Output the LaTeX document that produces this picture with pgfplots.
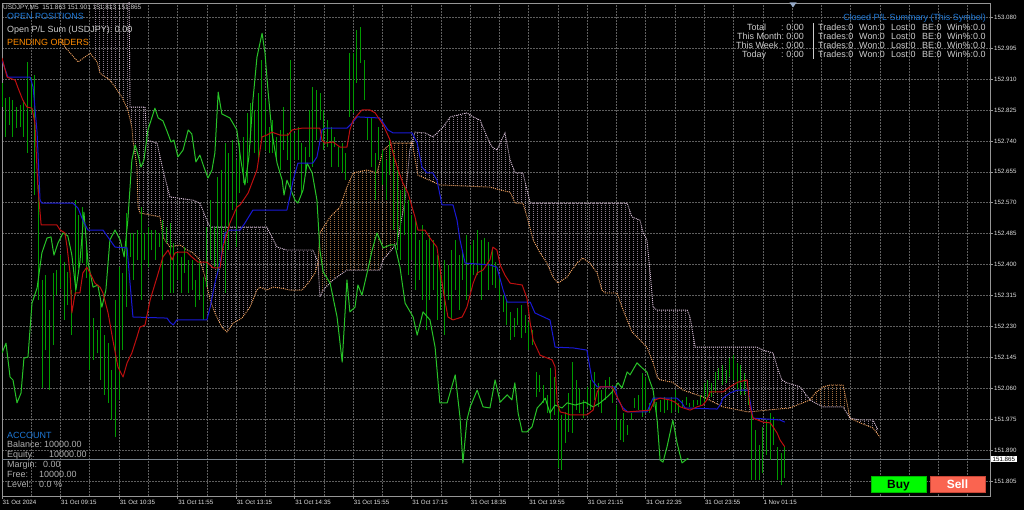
\documentclass[border=0pt]{standalone}
\usepackage{fontspec}
\setmainfont{Liberation Sans}
\usepackage{pgfplots}
\pgfplotsset{compat=1.18}
\usepackage{pgfplotstable}
\usetikzlibrary{patterns.meta}

\definecolor{gridc}{RGB}{95,95,95}
\definecolor{framec}{RGB}{150,150,150}
\definecolor{ticktxt}{RGB}{225,225,225}
\definecolor{barc}{RGB}{0,155,0}
\definecolor{chikouc}{RGB}{40,195,40}
\definecolor{tenkanc}{RGB}{190,15,15}
\definecolor{kijunc}{RGB}{25,25,215}
\definecolor{sandy}{RGB}{244,164,96}
\definecolor{thistle}{RGB}{216,191,216}
\definecolor{mtblue}{RGB}{30,120,215}
\definecolor{mtorange}{RGB}{255,140,0}
\definecolor{txtc}{RGB}{205,205,205}
\definecolor{acctc}{RGB}{175,175,175}
\definecolor{pricelc}{RGB}{120,130,140}
\definecolor{buyc}{RGB}{0,250,0}
\definecolor{buyb}{RGB}{0,185,0}
\definecolor{sellc}{RGB}{250,100,80}
\definecolor{sellb}{RGB}{200,70,55}
\definecolor{markc}{RGB}{150,170,200}

\pgfdeclarepattern{
  name=vdots,
  type=uncolored,
  bottom left={\pgfpoint{0bp}{0bp}},
  top right={\pgfpoint{3.658bp}{2bp}},
  tile size={\pgfpoint{3.658bp}{2bp}},
  code={\pgfpathrectangle{\pgfpointorigin}{\pgfpoint{1bp}{1bp}}\pgfusepath{fill}}
}

% M5 bars: index, low, high
\pgfplotstableread{
i lo hi
0 152.833 152.899
1 152.751 152.858
2 152.784 152.860
3 152.751 152.852
4 152.775 152.833
5 152.778 152.838
6 152.751 152.852
7 152.707 152.957
8 152.817 152.915
9 152.591 152.921
10 152.303 152.619
11 152.061 152.358
12 152.165 152.371
13 152.055 152.275
14 152.179 152.377
15 152.316 152.385
16 152.336 152.426
17 152.248 152.407
18 152.289 152.380
19 152.206 152.330
20 152.316 152.577
21 152.391 152.536
22 152.404 152.558
23 152.363 152.454
24 152.110 152.380
25 152.138 152.253
26 152.157 152.220
27 152.083 152.303
28 152.042 152.206
29 152.020 152.184
30 151.973 152.110
31 151.926 152.303
32 152.028 152.393
33 152.165 152.377
34 152.283 152.542
35 152.421 152.487
36 152.358 152.487
37 152.413 152.495
38 152.303 152.558
39 152.413 152.487
40 152.393 152.503
41 152.440 152.495
42 152.413 152.495
43 152.448 152.487
44 152.303 152.522
45 152.459 152.503
46 152.322 152.514
47 152.322 152.459
48 152.358 152.432
49 152.322 152.421
50 152.377 152.448
51 152.322 152.413
52 152.330 152.413
53 152.283 152.358
54 152.303 152.413
55 152.248 152.366
56 152.338 152.503
57 152.413 152.577
58 152.393 152.503
59 152.377 152.641
60 152.432 152.660
61 152.322 152.734
62 152.440 152.707
63 152.550 152.742
64 152.448 152.687
65 152.597 152.734
66 152.624 152.751
67 152.624 152.817
68 152.734 152.844
69 152.707 152.825
70 152.687 152.871
71 152.734 152.962
72 152.715 152.852
73 152.707 152.778
74 152.707 152.797
75 152.687 152.751
76 152.660 152.770
77 152.715 152.833
78 152.687 152.762
79 152.613 152.962
80 152.687 152.762
81 152.687 152.778
82 152.597 152.734
83 152.652 152.723
84 152.696 152.825
85 152.668 152.888
86 152.742 152.880
87 152.797 152.871
88 152.715 152.825
89 152.723 152.797
90 152.668 152.778
91 152.723 152.751
92 152.668 152.723
93 152.652 152.734
94 152.632 152.707
95 152.806 152.981
96 152.817 152.981
97 152.899 153.045
98 152.954 153.053
99 152.852 152.962
100 152.742 152.806
101 152.668 152.806
102 152.577 152.707
103 152.687 152.778
104 152.619 152.715
105 152.577 152.687
106 152.646 152.742
107 152.495 152.715
108 152.440 152.660
109 152.413 152.605
110 152.481 152.619
111 152.371 152.577
112 152.413 152.536
113 152.330 152.522
114 152.358 152.468
115 152.303 152.509
116 152.220 152.468
117 152.303 152.481
118 152.330 152.468
119 152.248 152.426
120 152.275 152.385
121 152.206 152.413
122 152.303 152.399
123 152.248 152.440
124 152.330 152.468
125 152.275 152.426
126 152.358 152.440
127 152.303 152.481
128 152.330 152.454
129 152.371 152.468
130 152.371 152.495
131 152.303 152.468
132 152.399 152.473
133 152.330 152.462
134 152.344 152.440
135 152.336 152.407
136 152.303 152.371
137 152.270 152.316
138 152.234 152.303
139 152.193 152.270
140 152.201 152.253
141 152.234 152.281
142 152.198 152.289
143 152.212 152.261
144 152.165 152.242
145 152.179 152.220
146 152.036 152.105
147 152.050 152.097
148 152.020 152.069
149 151.992 152.042
150 151.973 152.116
151 151.987 152.091
152 151.841 152.014
153 151.835 151.987
154 151.910 151.995
155 151.940 152.047
156 151.937 152.132
157 152.000 152.083
158 151.992 152.061
159 151.978 152.028
160 152.009 152.064
161 152.000 152.083
162 152.028 152.105
163 152.009 152.075
164 151.992 152.055
165 152.028 152.083
166 152.064 152.091
167 152.020 152.069
168 151.945 152.014
169 151.918 151.973
170 151.912 151.992
171 151.932 151.959
172 151.973 151.992
173 152.006 152.033
174 152.000 152.042
175 151.981 152.102
176 151.992 152.091
177 151.992 152.020
178 152.009 152.036
179 151.992 152.022
180 151.995 152.028
181 151.992 152.036
182 152.000 152.028
183 151.992 152.036
184 152.000 152.055
185 151.992 152.020
186 152.006 152.028
187 152.014 152.036
188 152.009 152.020
189 152.009 152.028
190 152.014 152.028
191 152.014 152.042
192 152.020 152.075
193 152.033 152.083
194 152.036 152.075
195 152.047 152.105
196 152.083 152.116
197 152.069 152.124
198 152.075 152.110
199 152.091 152.143
200 152.083 152.151
201 152.055 152.130
202 152.042 152.124
203 152.042 152.102
204 152.014 152.047
205 151.808 151.992
206 151.808 151.945
207 151.808 151.904
208 151.827 151.954
209 151.877 151.973
210 151.863 151.992
211 151.904 151.981
212 151.808 151.899
213 151.794 151.882
214 151.813 151.901
}\bars

% Senkou Span A (shifted forward 26 bars)
\pgfplotstableread{
i p
16.4 153.017
17.2 152.998
20.8 152.957
24.1 152.981
26.0 152.957
26.8 152.926
29.5 152.907
30.9 152.888
32.8 152.860
34.4 152.825
35.5 152.778
35.8 152.742
36.9 152.668
37.2 152.558
37.7 152.542
43.2 152.531
44.0 152.476
45.1 152.459
45.9 152.448
48.7 152.454
50.6 152.440
52.2 152.432
54.1 152.413
55.5 152.366
56.9 152.303
58.2 152.267
60.1 152.228
61.5 152.215
63.2 152.239
65.6 152.253
67.8 152.283
69.7 152.330
70.5 152.338
72.4 152.330
74.1 152.338
76.0 152.336
78.7 152.330
82.0 152.330
83.7 152.349
85.6 152.377
86.4 152.407
86.9 152.487
89.7 152.531
92.4 152.558
94.3 152.613
96.0 152.652
99.8 152.660
102.5 152.652
104.2 152.715
106.6 152.734
111.5 152.734
112.1 152.737
113.7 152.646
119.7 152.619
133.4 152.613
136.2 152.605
138.9 152.599
140.3 152.569
142.4 152.569
143.8 152.522
145.2 152.468
147.1 152.432
149.0 152.404
150.6 152.366
152.0 152.349
154.5 152.366
155.8 152.385
157.2 152.404
158.8 152.418
160.7 152.404
162.7 152.377
164.0 152.330
164.9 152.322
168.1 152.322
169.5 152.283
170.9 152.248
172.2 152.215
173.6 152.201
176.3 152.173
178.0 152.130
179.1 152.091
179.9 152.083
183.2 152.077
186.2 152.055
191.7 152.036
197.1 152.009
204.0 151.995
215.4 152.006
220.9 152.028
222.3 152.047
224.5 152.064
226.4 152.069
229.9 152.069
231.0 152.020
231.8 151.978
234.6 151.965
238.1 151.951
240.0 151.926
}\spanA

% Senkou Span B (shifted forward 26 bars)
\pgfplotstableread{
i p
24.9 153.182
34.7 153.182
35.0 152.833
39.1 152.833
39.6 152.742
42.4 152.734
44.0 152.660
45.9 152.586
52.2 152.577
54.1 152.569
56.0 152.522
56.9 152.503
72.4 152.503
73.8 152.476
75.2 152.448
77.9 152.440
85.0 152.440
86.4 152.407
86.9 152.311
87.8 152.330
90.5 152.358
94.3 152.385
103.3 152.385
104.2 152.413
108.0 152.459
110.2 152.577
111.5 152.715
112.1 152.737
112.9 152.764
115.6 152.762
117.8 152.751
120.6 152.778
122.5 152.806
127.1 152.817
128.8 152.806
130.7 152.797
132.6 152.751
134.0 152.723
135.3 152.715
137.5 152.762
138.9 152.687
140.3 152.652
142.4 152.652
144.4 152.569
170.9 152.569
172.2 152.531
174.4 152.522
175.3 152.487
176.3 152.468
177.2 152.377
178.0 152.283
179.1 152.275
187.3 152.275
188.1 152.256
189.5 152.173
206.4 152.173
208.1 152.165
210.8 152.157
211.9 152.119
213.2 152.083
214.6 152.075
218.2 152.064
220.9 152.028
222.3 152.020
224.5 152.009
229.9 152.009
231.8 151.978
234.6 151.973
238.1 151.973
239.5 151.945
}\spanB

\begin{document}
\begin{tikzpicture}
\fill[black] (0bp,0bp) rectangle (1024bp,510bp);
\useasboundingbox (0bp,0bp) rectangle (1024bp,510bp);
\begin{axis}[
  at={(2bp,14bp)}, anchor=south west,
  scale only axis, width=988bp, height=493bp,
  xmin=0, xmax=270.1, ymin=151.764, ymax=153.119,
  axis line style={draw=framec, line width=0.8bp},
  xtick={0,16,...,208},
  xticklabels={31 Oct 2024,31 Oct 09:15,31 Oct 10:35,31 Oct 11:55,31 Oct 13:15,31 Oct 14:35,31 Oct 15:55,31 Oct 17:15,31 Oct 18:35,31 Oct 19:55,31 Oct 21:15,31 Oct 22:35,31 Oct 23:55,1 Nov 01:15},
  minor xtick={8,16,...,264},
  ytick={151.805,151.890,151.975,152.060,152.145,152.230,152.315,152.400,152.485,152.570,152.655,152.740,152.825,152.910,152.995,153.080},
  xmajorgrids=false, xminorgrids=true, ymajorgrids=true,
  major grid style={gridc, dash pattern=on 1.5bp off 1.5bp, line width=0.6bp},
  minor grid style={gridc, dash pattern=on 1.5bp off 1.5bp, line width=0.6bp},
  ytick pos=right, yticklabel pos=right, xtick pos=bottom,
  tick align=outside, major tick length=3bp, minor tick length=0pt,
  tick style={draw=framec, line width=0.6bp},
  scaled y ticks=false,
  /pgf/number format/assume math mode=true,
  yticklabel style={/pgf/number format/.cd, fixed, fixed zerofill, precision=3, /tikz/.cd,
     anchor=west, text=ticktxt, font=\fontsize{6.2}{7}\selectfont, inner sep=0pt, xshift=1bp},
  xticklabel style={anchor=north west, text=ticktxt, font=\fontsize{6.2}{7}\selectfont, inner sep=0pt, yshift=-1bp, xshift=0.5bp},
]
% cloud hatching, one polygon per twist of the Kumo (Span A forward, Span B back)
\addplot[pattern=vdots, pattern color=thistle, draw=none] table {
x y
24.9 152.971
26.0 152.957
26.8 152.926
29.5 152.907
30.9 152.888
32.8 152.860
34.4 152.825
35.5 152.778
35.8 152.742
36.9 152.668
37.2 152.558
37.7 152.542
43.2 152.531
44.0 152.476
45.1 152.459
45.9 152.448
48.7 152.454
50.6 152.440
52.2 152.432
54.1 152.413
55.5 152.366
56.9 152.303
58.2 152.267
60.1 152.228
61.5 152.215
63.2 152.239
65.6 152.253
67.8 152.283
69.7 152.330
70.5 152.338
72.4 152.330
74.1 152.338
76.0 152.336
78.7 152.330
82.0 152.330
83.7 152.349
85.6 152.377
86.4 152.407
85.0 152.440
77.9 152.440
75.2 152.448
73.8 152.476
72.4 152.503
56.9 152.503
56.0 152.522
54.1 152.569
52.2 152.577
45.9 152.586
44.0 152.660
42.4 152.734
39.6 152.742
39.1 152.833
35.0 152.833
34.7 153.182
24.9 153.182
} -- cycle;
\addplot[pattern=vdots, pattern color=sandy, draw=none] table {
x y
86.4 152.407
86.9 152.487
89.7 152.531
92.4 152.558
94.3 152.613
96.0 152.652
99.8 152.660
102.5 152.652
104.2 152.715
106.6 152.734
111.5 152.734
112.1 152.737
111.5 152.715
110.2 152.577
108.0 152.459
104.2 152.413
103.3 152.385
94.3 152.385
90.5 152.358
87.8 152.330
86.9 152.311
} -- cycle;
\addplot[pattern=vdots, pattern color=thistle, draw=none] table {
x y
112.1 152.737
113.7 152.646
119.7 152.619
133.4 152.613
136.2 152.605
138.9 152.599
140.3 152.569
142.4 152.569
143.8 152.522
145.2 152.468
147.1 152.432
149.0 152.404
150.6 152.366
152.0 152.349
154.5 152.366
155.8 152.385
157.2 152.404
158.8 152.418
160.7 152.404
162.7 152.377
164.0 152.330
164.9 152.322
168.1 152.322
169.5 152.283
170.9 152.248
172.2 152.215
173.6 152.201
176.3 152.173
178.0 152.130
179.1 152.091
179.9 152.083
183.2 152.077
186.2 152.055
191.7 152.036
197.1 152.009
204.0 151.995
215.4 152.006
220.9 152.028
218.2 152.064
214.6 152.075
213.2 152.083
211.9 152.119
210.8 152.157
208.1 152.165
206.4 152.173
189.5 152.173
188.1 152.256
187.3 152.275
179.1 152.275
178.0 152.283
177.2 152.377
176.3 152.468
175.3 152.487
174.4 152.522
172.2 152.531
170.9 152.569
144.4 152.569
142.4 152.652
140.3 152.652
138.9 152.687
137.5 152.762
135.3 152.715
134.0 152.723
132.6 152.751
130.7 152.797
128.8 152.806
127.1 152.817
122.5 152.806
120.6 152.778
117.8 152.751
115.6 152.762
112.9 152.764
} -- cycle;
\addplot[pattern=vdots, pattern color=sandy, draw=none] table {
x y
220.9 152.028
222.3 152.047
224.5 152.064
226.4 152.069
229.9 152.069
231.0 152.020
231.8 151.978
229.9 152.009
224.5 152.009
222.3 152.020
} -- cycle;
\addplot[pattern=vdots, pattern color=thistle, draw=none] table {
x y
231.8 151.978
234.6 151.965
238.1 151.951
240.0 151.926
239.5 151.945
238.1 151.973
234.6 151.973
} -- cycle;
% cloud lines
\addplot[sandy, line width=0.9bp, dash pattern=on 1bp off 1bp] table[x=i, y=p] {\spanA};
\addplot[thistle, line width=0.9bp, dash pattern=on 1bp off 1bp] table[x=i, y=p] {\spanB};
% current price line
\addplot[pricelc, line width=0.8bp] coordinates {(0,151.865) (270.1,151.865)};
% bars (high-low)
\addplot[barc, line width=1bp, quiver={u=0, v=\thisrow{hi}-\thisrow{lo}}] table[x=i, y=lo] {\bars};
% Chikou span
\addplot[chikouc, line width=1bp, line join=round] table {
x y
0 152.157
1.1 152.184
2.2 152.091
3.0 152.083
4.1 152.020
5.2 152.047
6.0 152.143
7.1 152.146
8.2 152.294
9.6 152.336
10.9 152.432
12.3 152.473
13.4 152.476
14.2 152.426
15.3 152.459
16.7 152.487
18.0 152.479
19.1 152.426
20.2 152.330
21.3 152.407
22.4 152.544
23.5 152.407
24.9 152.338
26.2 152.344
27.3 152.283
28.4 152.330
29.5 152.468
30.9 152.495
32.3 152.468
33.4 152.421
34.4 152.522
35.5 152.687
36.4 152.729
37.2 152.701
38.0 152.668
38.8 152.687
39.9 152.770
41.8 152.830
42.7 152.803
44.0 152.795
45.1 152.767
46.2 152.737
47.0 152.742
48.1 152.696
49.5 152.715
50.9 152.770
51.9 152.759
53.0 152.682
54.1 152.701
55.2 152.668
56.3 152.638
57.4 152.660
58.2 152.707
59.1 152.874
60.1 152.814
62.3 152.803
64.2 152.770
65.3 152.687
66.4 152.619
67.5 152.696
68.6 152.852
69.7 152.970
71.1 153.036
71.9 152.981
72.7 152.880
73.8 152.762
75.2 152.679
76.6 152.632
77.1 152.591
77.9 152.632
78.7 152.613
80.1 152.577
80.9 152.569
82.3 152.605
83.4 152.679
84.8 152.652
86.1 152.577
86.9 152.440
87.8 152.380
89.7 152.349
91.6 152.256
93.0 152.132
94.3 152.358
95.1 152.270
96.5 152.283
97.3 152.344
98.4 152.316
99.8 152.377
101.2 152.440
102.5 152.487
104.2 152.446
106.1 152.454
107.4 152.454
108.8 152.393
110.2 152.294
112.4 152.256
113.5 152.206
115.1 152.270
117.0 152.248
118.4 152.173
119.7 152.020
121.7 152.020
123.9 152.097
125.2 151.981
126.0 151.855
127.1 151.973
128.0 152.009
129.9 152.055
131.5 152.009
133.4 152.006
134.8 152.083
136.2 152.022
138.1 152.042
139.4 152.028
140.2 152.075
141.1 151.992
142.2 151.940
143.5 151.940
144.9 151.954
146.3 152.006
147.6 152.020
148.5 152.033
149.8 151.992
151.2 152.014
153.1 152.006
154.5 152.020
156.7 152.014
159.4 152.022
161.6 152.009
163.5 152.020
165.4 152.036
166.8 152.050
168.4 152.075
169.5 152.061
170.9 152.105
171.7 152.097
173.6 152.130
175.0 152.116
176.3 152.105
177.2 152.077
178.0 152.055
179.1 151.973
179.9 151.863
180.7 151.857
181.8 151.899
183.4 151.973
184.5 151.912
185.9 151.855
187.6 151.868
};
% Kijun-sen
\addplot[kijunc, line width=1bp, line join=round] table {
x y
0 152.962
1.6 152.915
7.7 152.915
8.5 152.888
9.6 152.762
10.4 152.577
10.9 152.569
19.4 152.569
20.8 152.555
22.1 152.522
23.5 152.495
27.6 152.495
29.5 152.468
30.9 152.448
34.2 152.446
35.0 152.349
35.8 152.256
45.1 152.253
45.9 152.242
46.8 152.234
47.8 152.248
56.0 152.248
56.9 152.283
58.2 152.349
59.6 152.404
61.0 152.487
62.3 152.495
65.1 152.495
66.4 152.514
68.6 152.550
77.9 152.550
78.7 152.586
79.6 152.632
80.9 152.679
85.0 152.679
86.1 152.696
87.5 152.770
88.3 152.775
94.3 152.775
95.7 152.789
97.1 152.806
103.3 152.803
105.5 152.770
106.9 152.762
112.1 152.762
113.5 152.734
114.8 152.668
116.2 152.652
117.8 152.652
118.9 152.632
120.3 152.564
123.3 152.564
124.4 152.522
125.2 152.468
126.6 152.404
133.4 152.399
135.3 152.393
137.0 152.330
138.1 152.297
144.4 152.297
145.7 152.267
149.8 152.248
151.2 152.173
156.1 152.171
159.9 152.165
161.3 152.083
162.7 152.064
167.6 152.064
168.4 152.028
169.8 152.006
171.1 151.995
176.3 151.995
178.0 152.033
184.5 152.033
185.9 152.020
186.7 152.006
195.5 152.003
196.3 152.014
197.1 152.033
199.0 152.047
201.0 152.055
204.0 152.055
205.3 151.978
212.7 151.973
214.0 151.967
};
% Tenkan-sen
\addplot[tenkanc, line width=1bp, line join=round] table {
x y
0 152.968
1.4 152.915
3.6 152.907
4.4 152.885
5.7 152.852
6.8 152.833
8.2 152.830
9.0 152.789
9.8 152.613
10.7 152.509
15.0 152.509
15.9 152.495
17.2 152.487
17.8 152.448
18.6 152.377
19.1 152.267
20.0 152.322
21.3 152.322
22.1 152.377
23.2 152.393
24.6 152.366
25.4 152.349
26.8 152.338
27.6 152.322
29.0 152.267
30.3 152.193
31.7 152.119
33.1 152.091
34.2 152.130
35.5 152.157
36.9 152.201
37.7 152.228
39.1 152.234
40.5 152.303
42.4 152.366
44.0 152.421
45.4 152.440
46.5 152.413
47.3 152.432
48.1 152.434
50.6 152.434
51.9 152.421
53.6 152.407
56.0 152.407
57.7 152.391
59.6 152.391
60.4 152.448
62.3 152.514
64.2 152.558
65.1 152.564
67.3 152.597
69.7 152.660
71.1 152.751
72.4 152.756
73.8 152.764
76.0 152.756
78.2 152.756
79.3 152.770
82.0 152.775
86.9 152.775
87.5 152.742
88.3 152.734
90.5 152.737
92.4 152.723
94.3 152.723
95.1 152.770
96.0 152.797
98.4 152.825
100.6 152.825
102.0 152.817
104.2 152.784
106.1 152.742
106.9 152.707
108.3 152.660
109.6 152.624
111.0 152.597
112.1 152.558
112.9 152.531
113.7 152.495
115.6 152.495
117.0 152.473
118.9 152.448
120.6 152.330
121.9 152.256
123.3 152.248
125.8 152.256
127.1 152.283
128.8 152.349
129.9 152.377
131.5 152.385
133.4 152.413
134.2 152.448
135.3 152.440
136.2 152.399
137.5 152.371
138.9 152.349
142.2 152.344
143.5 152.308
144.4 152.239
145.2 152.193
147.1 152.151
150.4 152.138
151.2 152.119
151.8 152.020
152.6 151.995
153.9 151.992
155.3 151.987
159.9 151.987
161.6 152.000
162.7 152.050
163.5 152.064
166.8 152.064
167.6 152.047
169.0 152.020
169.8 152.000
170.9 151.995
177.2 152.000
178.5 152.028
179.9 152.033
182.6 152.028
184.0 152.022
185.4 152.009
188.1 152.000
190.0 152.009
191.6 152.014
192.7 152.028
193.6 152.050
197.1 152.050
199.0 152.064
201.2 152.077
203.7 152.083
204.5 152.009
205.3 151.978
208.1 151.967
210.0 151.965
210.8 151.954
211.9 151.937
212.7 151.918
214.0 151.899
};
\end{axis}

\begin{scope}[x=1bp,y=1bp]
% top-left
\node[anchor=base west, inner sep=0pt, text=txtc, font=\fontsize{6.5}{7}\selectfont] at (3,500.7) {USDJPY,M5\ \ 151.863 151.901 151.813 151.865};
\node[anchor=base west, inner sep=0pt, text=mtblue, font=\fontsize{9}{10}\selectfont] at (7,490.8) {OPEN POSITIONS};
\node[anchor=base west, inner sep=0pt, text=txtc, font=\fontsize{9}{10}\selectfont] at (7,477.8) {Open P/L Sum (USDJPY): 0.00};
\node[anchor=base west, inner sep=0pt, text=mtorange, font=\fontsize{9}{10}\selectfont] at (7,464.8) {PENDING ORDERS};
% top-right summary
\node[anchor=base east, inner sep=0pt, text=mtblue, font=\fontsize{9}{10}\selectfont] at (986,489.8) {Closed P/L Summary (This Symbol)};
\begin{scope}[every node/.style={inner sep=0pt, text=txtc, font=\fontsize{9}{10}\selectfont}]
\node[anchor=base west] at (747,479.8) {Total};
\node[anchor=base west] at (781,479.8) {:};
\node[anchor=base east] at (804,479.8) {0.00};
\node[anchor=base west] at (737,470.8) {This Month:};
\node[anchor=base east] at (804,470.8) {0.00};
\node[anchor=base west] at (736,461.8) {This Week};
\node[anchor=base west] at (781,461.8) {:};
\node[anchor=base east] at (804,461.8) {0.00};
\node[anchor=base west] at (742,452.8) {Today};
\node[anchor=base west] at (781,452.8) {:};
\node[anchor=base east] at (804,452.8) {0.00};
\foreach \yy in {479.8,470.8,461.8,452.8}{
  \node[anchor=base west] at (818,\yy) {Trades:0};
  \node[anchor=base west] at (859,\yy) {Won:0};
  \node[anchor=base west] at (891,\yy) {Lost:0};
  \node[anchor=base west] at (922,\yy) {BE:0};
  \node[anchor=base west] at (947,\yy) {Win\%:0.0};
}
\end{scope}
\draw[txtc, line width=0.8] (813,487) -- (813,451);
% account panel
\begin{scope}[every node/.style={inner sep=0pt, text=acctc, font=\fontsize{9}{10}\selectfont, anchor=base west}]
\node[text=mtblue] at (7,71.8) {ACCOUNT};
\node at (7,62.8) {Balance:}; \node at (44,62.8) {10000.00};
\node at (7,52.8) {Equity:};  \node at (49,52.8) {10000.00};
\node at (7,42.8) {Margin:};  \node at (43,42.8) {0.00};
\node at (7,32.8) {Free:};    \node at (39,32.8) {10000.00};
\node at (7,22.8) {Level:};   \node at (39,22.8) {0.0 \%};
\end{scope}
% buttons
\draw[fill=buyc, draw=buyb, line width=0.7] (871,18) rectangle (926,34);
\node[anchor=base, inner sep=0pt, text=black, font=\bfseries\fontsize{12}{12}\selectfont] at (898.5,21.7) {Buy};
\draw[fill=sellc, draw=sellb, line width=0.7] (930,18) rectangle (985,34);
\node[anchor=base, inner sep=0pt, text=white, font=\bfseries\fontsize{12}{12}\selectfont] at (957.5,21.7) {Sell};
% current price tag
\node[anchor=west, fill=white, text=black, inner xsep=1.5bp, inner ysep=1.2bp, font=\fontsize{6.2}{7}\selectfont] at (991,51) {151.865};
% shift marker
\fill[markc] (789.5,507.5) -- (796.5,507.5) -- (793,502.5) -- cycle;
\end{scope}
\end{tikzpicture}
\end{document}
